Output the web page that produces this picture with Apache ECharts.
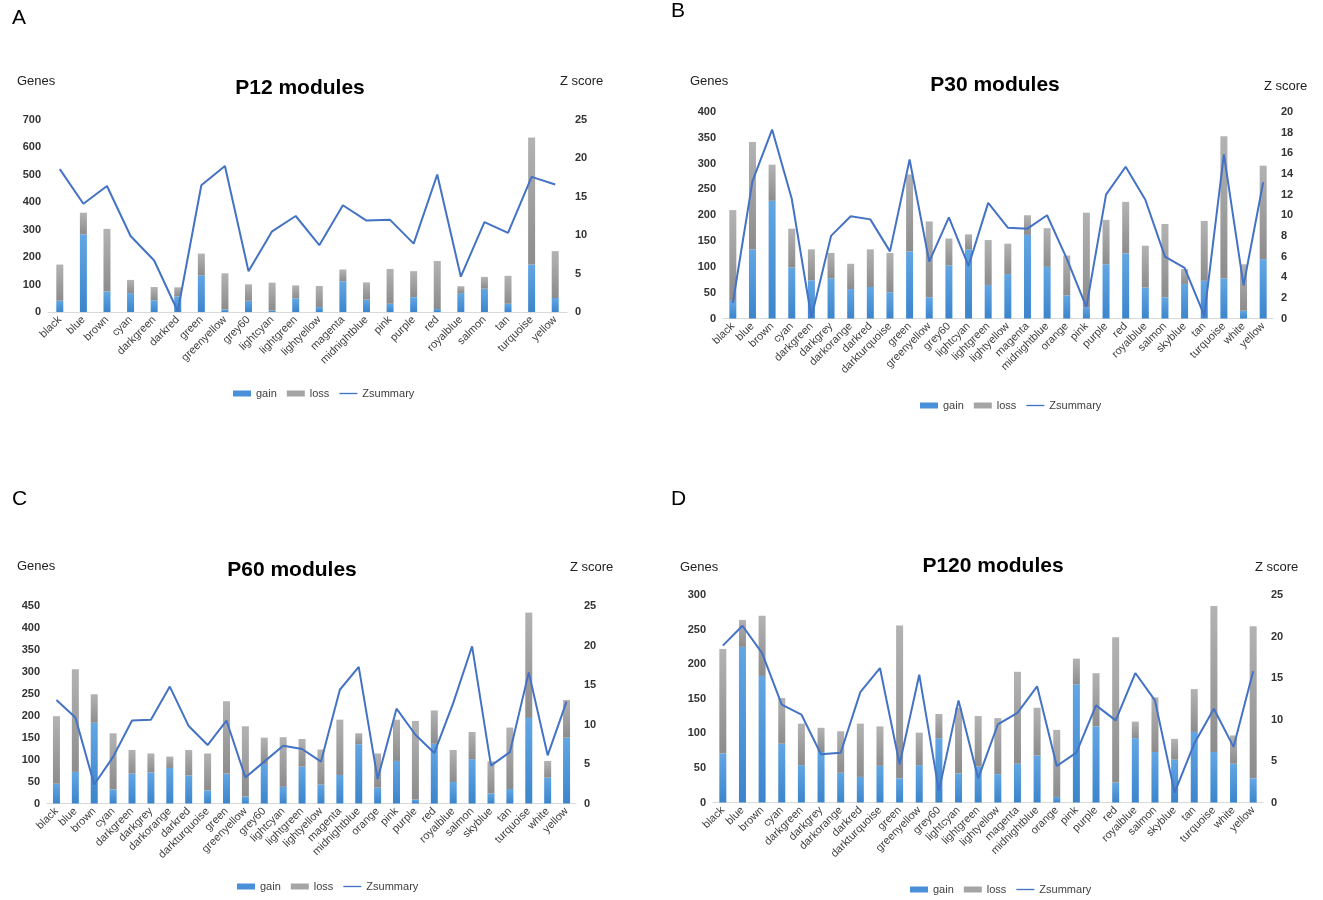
<!DOCTYPE html>
<html>
<head>
<meta charset="utf-8">
<script src="https://cdn.jsdelivr.net/npm/echarts@6/dist/echarts.min.js"></script>
<style>
  html, body { margin: 0; padding: 0; background: #fff; }
  #chart { width: 1323px; height: 900px; }
</style>
</head>
<body>
<div id="chart"></div>
<script>
// module names
var catsP12 = ['black','blue','brown','cyan','darkgreen','darkred','green','greenyellow','grey60','lightcyan','lightgreen','lightyellow','magenta','midnightblue','pink','purple','red','royalblue','salmon','tan','turquoise','yellow'];
var catsP30 = ['black','blue','brown','cyan','darkgreen','darkgrey','darkorange','darkred','darkturquoise','green','greenyellow','grey60','lightcyan','lightgreen','lightyellow','magenta','midnightblue','orange','pink','purple','red','royalblue','salmon','skyblue','tan','turquoise','white','yellow'];
var catsP60 = catsP30;
var catsP120 = catsP30;

// P12
var gainP12 = [41,283,75,69,43,57,134,9,41,5,50,18,112,45,30,54,11,69,85,30,173,51];
var lossP12 = [132,79,228,48,48,33,79,132,60,102,47,77,43,63,127,95,175,25,43,102,463,171];
var zP12 = [18.6,14.1,16.4,9.9,6.7,0.1,16.5,19.0,5.3,10.5,12.5,8.7,13.9,11.9,12.0,8.9,17.9,4.6,11.7,10.3,17.6,16.6];

// P30
var gainP30 = [34,134,228,99,74,78,57,61,51,130,41,103,134,65,86,162,100,45,22,105,126,60,41,67,73,78,15,115];
var lossP30 = [176,208,70,75,60,49,49,73,76,149,147,52,29,87,59,38,75,77,183,86,100,81,142,29,116,275,90,181];
var zP30 = [1.5,13.3,18.3,11.6,0.1,8.0,9.9,9.6,6.5,15.4,5.5,9.8,5.1,11.2,8.8,8.7,10.0,5.8,1.1,12.0,14.7,11.5,6.0,4.9,0.3,15.9,3.2,13.2];

// P60
var gainP60 = [45,72,184,32,68,71,81,64,30,68,16,90,38,84,43,65,135,36,97,9,136,49,101,23,33,195,59,150];
var lossP60 = [154,234,65,128,54,43,26,58,84,165,160,60,113,63,80,126,25,78,94,179,76,73,62,73,140,240,38,86];
var zP60 = [13.1,10.9,2.4,5.9,10.5,10.6,14.8,9.8,7.4,10.5,3.3,5.3,7.3,6.9,5.3,14.4,17.3,3.1,12.0,8.7,6.4,12.7,19.9,4.8,6.5,16.6,6.1,12.9];

// P120
var gainP120 = [71,225,183,85,54,73,43,37,53,35,54,93,42,52,41,56,68,8,171,110,29,93,73,62,102,73,56,35];
var lossP120 = [151,39,87,66,60,35,60,77,57,221,47,35,95,73,81,133,69,97,37,77,210,24,79,30,62,211,41,220];
var zP120 = [18.9,21.3,18.0,11.8,10.6,5.8,6.0,13.3,16.2,4.6,15.4,1.4,12.3,2.9,9.4,10.8,14.0,4.4,6.0,11.7,9.9,15.6,12.3,1.2,7.1,11.3,6.7,15.8];

// axis ranges [leftMax, leftStep, rightMax, rightStep]
var axisP12 = [700, 100, 25, 5];
var axisP30 = [400, 50, 20, 2];
var axisP60 = [450, 50, 25, 5];
var axisP120 = [300, 50, 25, 5];

var panels = [
  {letter:'A', title:'P12 modules', cats:catsP12, gain:gainP12, loss:lossP12, z:zP12, ax:axisP12,
   grid:{left:48, top:120, width:519, height:192}, letterPos:[12,8], titlePos:[300,78], genes:[17,75], zs:[560,75], legendTop:383, legendX:318},
  {letter:'B', title:'P30 modules', cats:catsP30, gain:gainP30, loss:lossP30, z:zP30, ax:axisP30,
   grid:{left:723, top:112, width:550, height:206.5}, letterPos:[671,1], titlePos:[995,75], genes:[690,75], zs:[1264,80], legendTop:395, legendX:1005},
  {letter:'C', title:'P60 modules', cats:catsP60, gain:gainP60, loss:lossP60, z:zP60, ax:axisP60,
   grid:{left:47, top:606, width:529, height:197.5}, letterPos:[12,489], titlePos:[292,560], genes:[17,560], zs:[570,561], legendTop:876, legendX:322},
  {letter:'D', title:'P120 modules', cats:catsP120, gain:gainP120, loss:lossP120, z:zP120, ax:axisP120,
   grid:{left:713, top:595, width:550, height:207.5}, letterPos:[671,489], titlePos:[993,556], genes:[680,561], zs:[1255,561], legendTop:879, legendX:995}
];

var font = 'Liberation Sans, Arial, sans-serif';
var gainColor = new echarts.graphic.LinearGradient(0,0,0,1,[{offset:0,color:'#62a6e3'},{offset:1,color:'#3c85cc'}]);
var lossColor = new echarts.graphic.LinearGradient(0,0,0,1,[{offset:0,color:'#b3b3b3'},{offset:1,color:'#8c8c8c'}]);
var lineIcon = 'path://M0,0L24,0L24,1.8L0,1.8Z';

var option = {
  backgroundColor:'#fff',
  animation:false,
  textStyle:{fontFamily:font},
  grid:[], xAxis:[], yAxis:[], series:[], legend:[], graphic:[]
};

panels.forEach(function(p, i){
  option.grid.push(p.grid);
  option.xAxis.push({
    type:'category', gridIndex:i, data:p.cats,
    axisLine:{lineStyle:{color:'#d9d9d9', width:1}},
    axisTick:{show:false},
    axisLabel:{rotate:45, fontSize:11, color:'#404040', interval:0, margin:6, fontFamily:font}
  });
  option.yAxis.push({
    type:'value', gridIndex:i, min:0, max:p.ax[0], interval:p.ax[1],
    splitLine:{show:false}, axisLine:{show:false}, axisTick:{show:false},
    axisLabel:{fontSize:11, color:'#333', fontWeight:'bold', margin:7, fontFamily:font}
  });
  option.yAxis.push({
    type:'value', gridIndex:i, position:'right', min:0, max:p.ax[2], interval:p.ax[3],
    splitLine:{show:false}, axisLine:{show:false}, axisTick:{show:false},
    axisLabel:{fontSize:11, color:'#333', fontWeight:'bold', margin:8, fontFamily:font}
  });
  option.series.push({
    name:'gain', type:'bar', stack:'s'+i, xAxisIndex:i, yAxisIndex:2*i,
    data:p.gain, barWidth:7, itemStyle:{color:gainColor}
  });
  option.series.push({
    name:'loss', type:'bar', stack:'s'+i, xAxisIndex:i, yAxisIndex:2*i,
    data:p.loss, barWidth:7, itemStyle:{color:lossColor}
  });
  option.series.push({
    name:'Zsummary', type:'line', xAxisIndex:i, yAxisIndex:2*i+1,
    data:p.z, symbol:'none', lineStyle:{color:'#4472c4', width:2}, itemStyle:{color:'#4472c4'}
  });
  option.legend.push({
    top:p.legendTop, left:p.legendX - 90, itemWidth:18, itemHeight:6, itemGap:10,
    textStyle:{fontSize:11, color:'#404040', fontFamily:font},
    data:[{name:'gain', icon:'rect', itemStyle:{color:'#4a90d9'}},
          {name:'loss', icon:'rect', itemStyle:{color:'#a5a5a5'}},
          {name:'Zsummary', icon:lineIcon, itemStyle:{color:'#4472c4'}}]
  });
  option.graphic.push(
    {type:'text', left:p.letterPos[0], top:p.letterPos[1], style:{text:p.letter, fill:'#000', font:'21px ' + font}},
    {type:'text', x:p.titlePos[0], y:p.titlePos[1], style:{text:p.title, textAlign:'center', fill:'#000', font:'bold 21px ' + font}},
    {type:'text', left:p.genes[0], top:p.genes[1], style:{text:'Genes', fill:'#222', font:'13px ' + font}},
    {type:'text', left:p.zs[0], top:p.zs[1], style:{text:'Z score', fill:'#222', font:'13px ' + font}}
  );
});

var chart = echarts.init(document.getElementById('chart'));
chart.setOption(option);
</script>
</body>
</html>
